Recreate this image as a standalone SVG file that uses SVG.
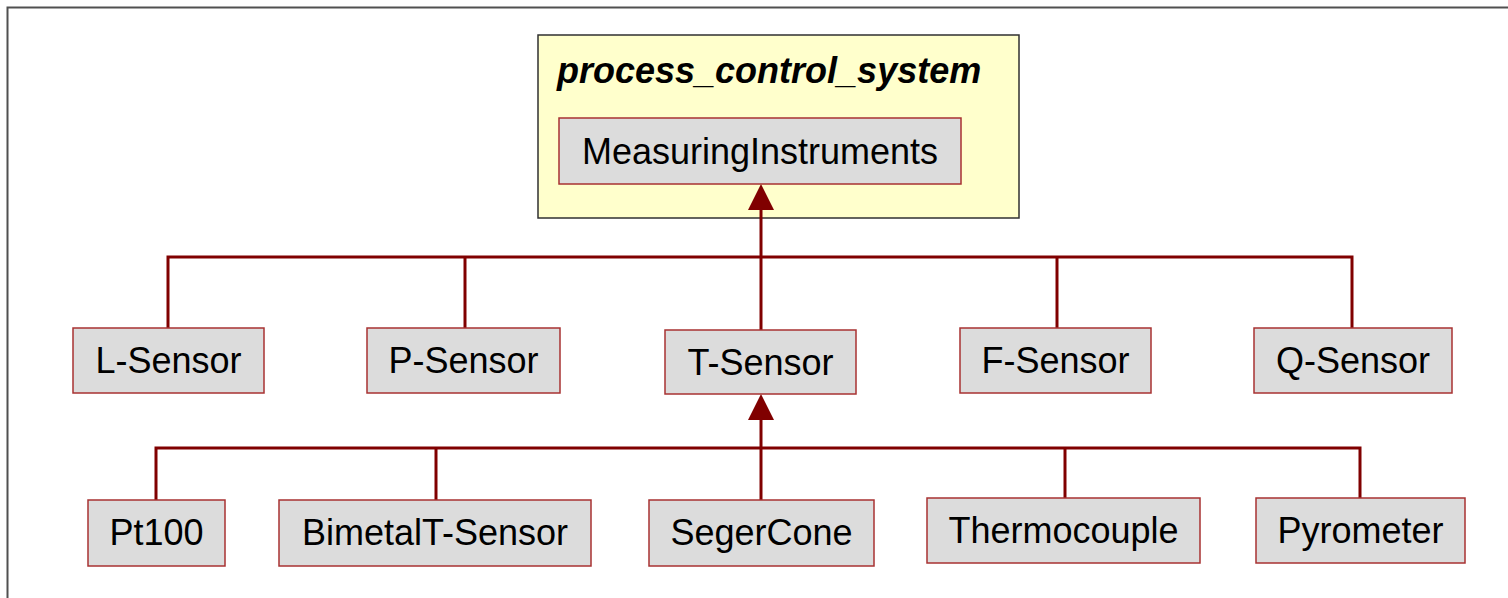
<svg xmlns="http://www.w3.org/2000/svg" width="1508" height="598" viewBox="0 0 1508 598">
<defs>
<style>
.frame{fill:#ffffff;stroke:#505050;stroke-width:2}
.pkg{fill:#ffffcc;stroke:#303030;stroke-width:1.5}
.cls{fill:#dcdcdc;stroke:#a83232;stroke-width:1.5}
.t{font-family:"Liberation Sans",Arial,sans-serif;font-size:36px;fill:#000;text-anchor:middle}
.title{font-family:"Liberation Sans",Arial,sans-serif;font-size:36px;font-weight:bold;font-style:italic;fill:#000}
.ln{fill:none;stroke:#800000;stroke-width:3}
.head{fill:#800000;stroke:none}
</style>
</defs>
<rect class="frame" x="7.5" y="7.5" width="1520" height="620"/>
<g id="process_control_system">
<rect class="pkg" x="538" y="35" width="481" height="183"/>
<text class="title" x="557" y="83">process_control_system</text>
</g>
<g id="connectors">
<path class="ln" d="M761 210 V330"/>
<path class="ln" d="M168 328 V257 H1352 V328"/>
<path class="ln" d="M465 257 V328"/>
<path class="ln" d="M1057 257 V328"/>
<path class="head" d="M761 184 L748 210 L774 210 Z"/>
<path class="ln" d="M761 420 V500"/>
<path class="ln" d="M156 500 V448 H1360 V498"/>
<path class="ln" d="M436 448 V500"/>
<path class="ln" d="M1065 448 V498"/>
<path class="head" d="M761 394 L748 420 L774 420 Z"/>
</g>
<g id="MeasuringInstruments">
<rect class="cls" x="559" y="118" width="402" height="66"/>
<text class="t" x="760" y="163.5">MeasuringInstruments</text>
</g>
<g id="L-Sensor">
<rect class="cls" x="73" y="328" width="191" height="65"/>
<text class="t" x="168.5" y="373">L-Sensor</text>
</g>
<g id="P-Sensor">
<rect class="cls" x="367" y="328" width="193" height="65"/>
<text class="t" x="463.5" y="373">P-Sensor</text>
</g>
<g id="T-Sensor">
<rect class="cls" x="665" y="330" width="191" height="64"/>
<text class="t" x="760.5" y="374.5">T-Sensor</text>
</g>
<g id="F-Sensor">
<rect class="cls" x="960" y="328" width="191" height="65"/>
<text class="t" x="1055.5" y="373">F-Sensor</text>
</g>
<g id="Q-Sensor">
<rect class="cls" x="1254" y="328" width="198" height="65"/>
<text class="t" x="1353" y="373">Q-Sensor</text>
</g>
<g id="Pt100">
<rect class="cls" x="88" y="500" width="137" height="66"/>
<text class="t" x="156.5" y="545">Pt100</text>
</g>
<g id="BimetalT-Sensor">
<rect class="cls" x="279" y="500" width="312" height="66"/>
<text class="t" x="435" y="545">BimetalT-Sensor</text>
</g>
<g id="SegerCone">
<rect class="cls" x="649" y="500" width="225" height="66"/>
<text class="t" x="761.5" y="545">SegerCone</text>
</g>
<g id="Thermocouple">
<rect class="cls" x="927" y="498" width="273" height="65"/>
<text class="t" x="1063.5" y="543">Thermocouple</text>
</g>
<g id="Pyrometer">
<rect class="cls" x="1256" y="498" width="209" height="65"/>
<text class="t" x="1360.5" y="543">Pyrometer</text>
</g>
</svg>
